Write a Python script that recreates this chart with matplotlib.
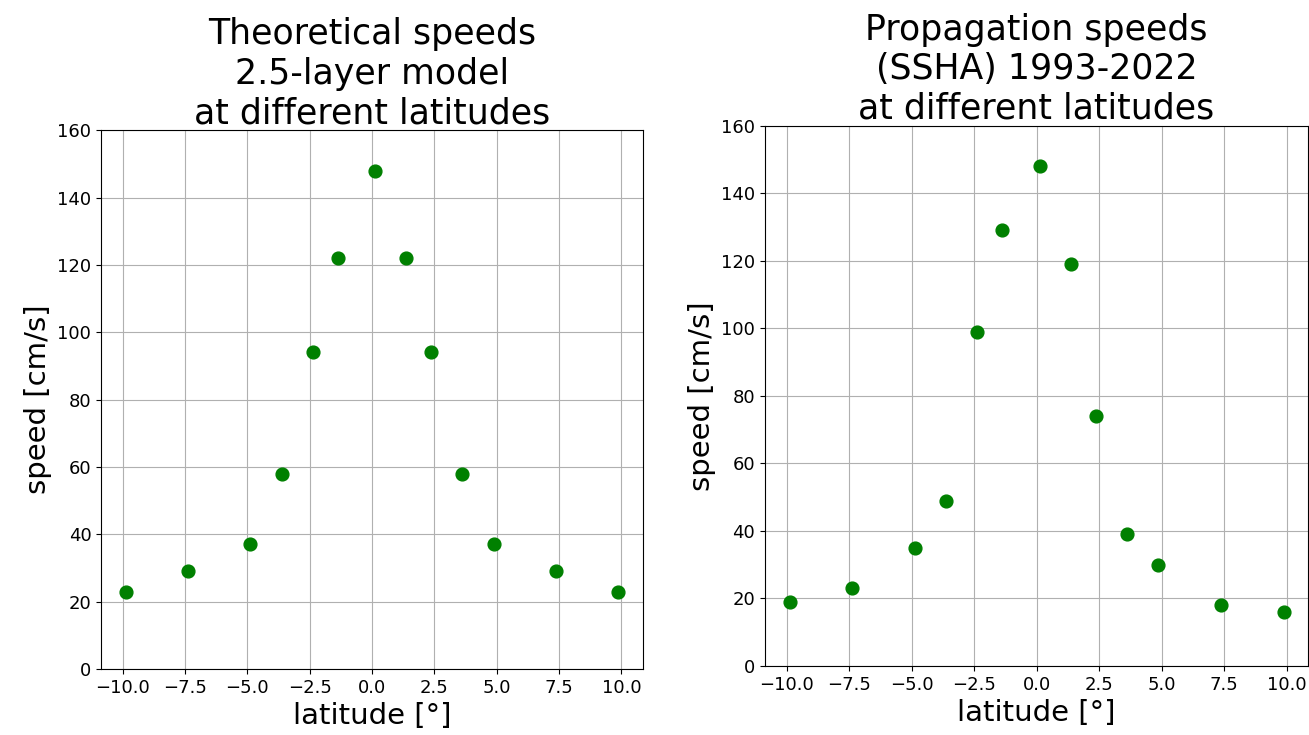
import matplotlib.pyplot as plt

# Data
lat = [-9.875, -7.375, -4.875, -3.625, -2.375, -1.375, 0.125,
       1.375, 2.375, 3.625, 4.875, 7.375, 9.875]
speed_theory = [23, 29, 37, 58, 94, 122, 148, 122, 94, 58, 37, 29, 23]
speed_ssha = [19, 23, 35, 49, 99, 129, 148, 119, 74, 39, 30, 18, 16]

titles = ["Theoretical speeds\n2.5-layer model\nat different latitudes",
          "Propagation speeds\n(SSHA) 1993-2022\nat different latitudes"]

fig = plt.figure(figsize=(13.09, 7.35), dpi=100)
ax1 = fig.add_axes([0.0772, 0.0898, 0.414, 0.733])
ax2 = fig.add_axes([0.5844, 0.0939, 0.415, 0.735])

for ax, ys, t in zip([ax1, ax2], [speed_theory, speed_ssha], titles):
    ax.plot(lat, ys, 'o', color='green', markersize=9.2)
    ax.set_ylim(0, 160)
    ax.grid(True)
    ax.set_title(t, fontsize=25, linespacing=1.2, pad=4)
    ax.set_xlabel('latitude [°]', fontsize=21)
    ax.set_ylabel('speed [cm/s]', fontsize=21)
    ax.tick_params(labelsize=13)

plt.savefig('out.png')
